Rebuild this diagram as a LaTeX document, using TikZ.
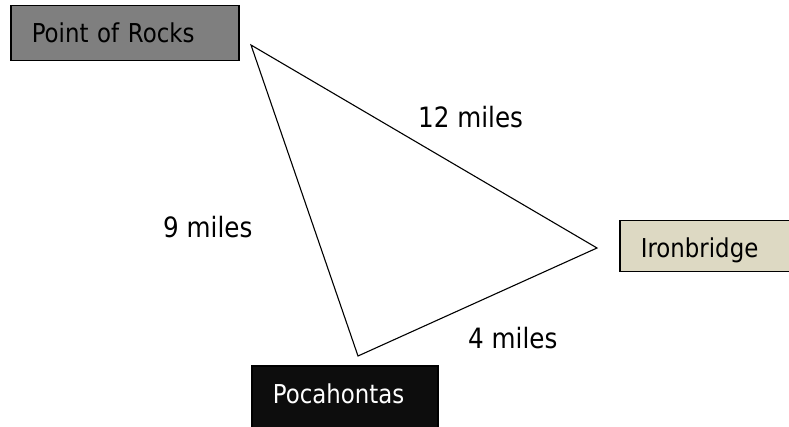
\documentclass[tikz,border=0pt]{standalone}
\usepackage{fontspec}
\setmainfont{DejaVu Sans}[FakeStretch=0.88]
\definecolor{porgray}{HTML}{7F7F7F}
\definecolor{irontan}{HTML}{DDD9C3}
\definecolor{pocblack}{HTML}{0D0D0D}
\begin{document}
\begin{tikzpicture}[x=1pt,y=-1pt,
  town/.style={draw=black, line width=1.5pt, anchor=north west, inner xsep=21pt, inner ysep=0pt,
    align=left, font=\fontsize{26}{30}\selectfont},
  dist/.style={anchor=base west, inner sep=0pt, font=\fontsize{28}{32}\selectfont},
  edge/.style={draw=black, line width=1.1pt, line join=miter}]
\clip (0,0) rectangle (789,427);
\fill[white] (0,0) rectangle (789,427);
\node[town, fill=porgray, minimum width=228pt, minimum height=55pt, text width=186pt,
  text height=19pt, text depth=0pt] (por) at (10,5) {Point of Rocks};
\node[town, fill=irontan, minimum width=200pt, minimum height=51pt, text width=158pt,
  text height=23pt, text depth=0pt] (iron) at (619,220) {Ironbridge};
\node[town, fill=pocblack, text=white, minimum width=186pt, minimum height=70pt, text width=144pt,
  text height=20pt, text depth=15pt] (poc) at (251,365) {Pocahontas};
\coordinate (A) at (251,45);
\coordinate (B) at (597,248);
\coordinate (C) at (358,356);
\draw[edge] (A) -- (B) -- (C) -- cycle;
\node[dist] (d12) at (418,128) {12 miles};
\node[dist] (d9) at (163,238) {9 miles};
\node[dist] (d4) at (468,348) {4 miles};
\end{tikzpicture}
\end{document}
